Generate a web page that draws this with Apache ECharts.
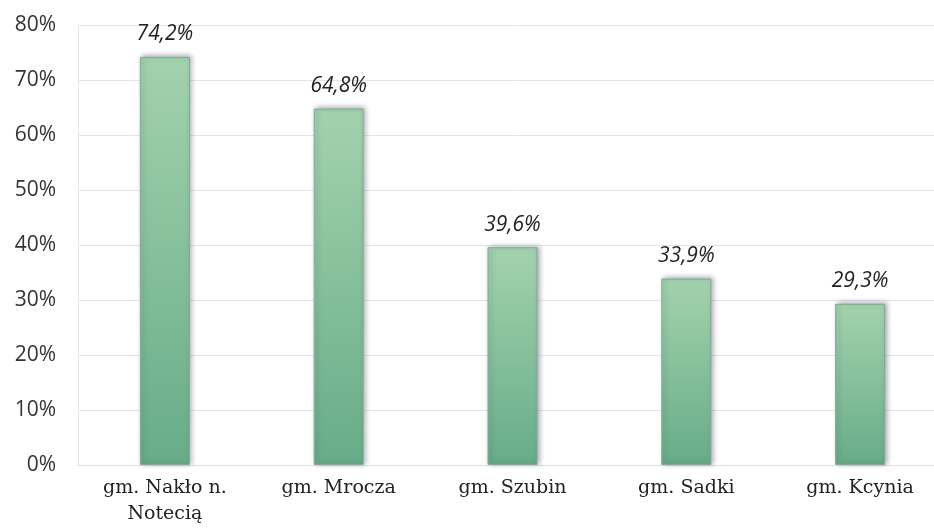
<!DOCTYPE html>
<html><head><meta charset="utf-8">
<script src="https://cdn.jsdelivr.net/npm/echarts@6/dist/echarts.min.js"></script>
<style>html,body{margin:0;padding:0;background:#fff;overflow:hidden;width:934px;height:531px}#c{width:960px;height:531px}</style>
</head><body><div id="c"></div>
<script>
const categories = ['gm. Nakło n.\nNotecią', 'gm. Mrocza', 'gm. Szubin', 'gm. Sadki', 'gm. Kcynia'];
const values = [74.2, 64.8, 39.6, 33.9, 29.3];
const yTicks = [0, 10, 20, 30, 40, 50, 60, 70, 80];

const chart = echarts.init(document.getElementById('c'));
chart.setOption({
  animation: false,
  grid: { left: 78, top: 25, width: 869, bottom: 66, containLabel: false },
  xAxis: {
    type: 'category', data: categories,
    axisLine: { show: true, lineStyle: { color: '#dedee6' } },
    axisTick: { show: false },
    axisLabel: { color: '#222', fontSize: 19, fontFamily: 'DejaVu Serif', margin: 10, lineHeight: 26 }
  },
  yAxis: {
    type: 'value', min: yTicks[0], max: yTicks[yTicks.length - 1], interval: 10,
    axisLine: { show: true, lineStyle: { color: '#e6e6ee' } }, axisTick: { show: false },
    splitLine: { lineStyle: { color: '#e4e4ec' } },
    axisLabel: { color: '#333', fontSize: 21, fontFamily: 'Open Sans', margin: 22, formatter: v => v + '%' }
  },
  series: [{
    type: 'bar', data: values, barWidth: 50,
    itemStyle: {
      color: new echarts.graphic.LinearGradient(0, 0, 0, 1, [
        { offset: 0, color: '#a3d2ad' },
        { offset: 1, color: '#67ac88' }
      ]),
      borderColor: '#7fae8c', borderWidth: 1,
      shadowColor: 'rgba(60,60,90,0.45)', shadowBlur: 5, shadowOffsetX: 2, shadowOffsetY: -1
    },
    label: {
      show: true, position: 'top', distance: 12,
      color: '#222', fontSize: 21, fontStyle: 'italic', fontFamily: 'Open Sans',
      formatter: p => p.value.toFixed(1).replace('.', ',') + '%'
    }
  }]
});
</script></body></html>
